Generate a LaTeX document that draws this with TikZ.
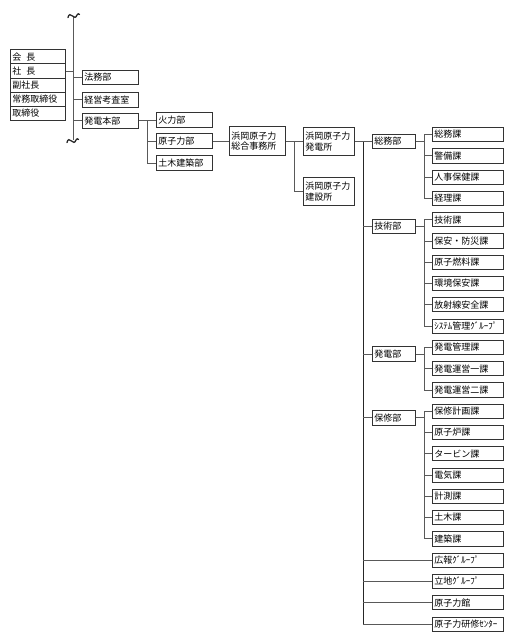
\documentclass[tikz,border=0pt]{standalone}
\usepackage{fontspec}
\newfontfamily\jpfont{Noto Sans CJK JP}
\usetikzlibrary{positioning}

\begin{document}
\begin{tikzpicture}[
    x=1pt, y=-1pt,
    box/.style   ={rectangle, draw=black!80, line width=0.7pt, fill=white,
                   inner xsep=2pt, inner ysep=0pt, anchor=west, align=left,
                   font=\jpfont\fontsize{9}{10.5}\selectfont},
    exec/.style  ={box, text width=51pt, minimum height=14.2pt},
    staff/.style ={box, text width=52pt, minimum height=14.5pt},
    office/.style={box, minimum height=28.5pt},
    dept/.style  ={box, text width=39pt, minimum height=14.5pt},
    sect/.style  ={box, text width=67pt, minimum height=14.2pt},
    link/.style  ={draw=black!65, line width=0.7pt},
    bus/.style   ={draw=black!85, line width=1pt},
    brk/.style   ={draw=black!85, line width=1.3pt, line cap=round}
]
\useasboundingbox (0,0) rectangle (512,640);

%% --- 役員 ---
\node[exec] (kai)  at (10,56.7)  {会\hspace{5pt}長};
\node[exec] (sha)  at (10,70.9)  {社\hspace{5pt}長};
\node[exec] (fuku) at (10,85.1)  {副社長};
\node[exec] (jomu) at (10,99.3)  {常務取締役};
\node[exec] (tori) at (10,113.5) {取締役};

%% --- 幕僚・本部 ---
\coordinate (top) at (73,16);
\coordinate (bot) at (73,140);
\node[staff] (homu)  at (82,77.5)  {法務部};
\node[staff] (keiei) at (82,99.7)  {経営考査室};
\node[staff] (hq)    at (82,120.8) {発電本部};

\node[staff] (karyoku) at (156,120) {火力部};
\node[staff] (genshi)  at (156,141) {原子力部};
\node[staff] (doboku)  at (156,163) {土木建築部};
\coordinate (b0) at (147,0);

%% --- 浜岡 ---
\node[office, text width=52pt] (sogo)   at (229,141)   {浜岡原子力\\総合事務所};
\node[office, text width=47pt] (hatsu)  at (303,141.5) {浜岡原子力\\発電所};
\node[office, text width=47pt] (kensetsu) at (303,191.5) {浜岡原子力\\建設所};
\coordinate (b1) at (294,0);
\coordinate (main) at (363,0);
\coordinate (b2) at (424,0);

%% --- 部 ---
\node[dept] (d1) at (372,141.2) {総務部};
\node[dept] (d2) at (372,226.3) {技術部};
\node[dept] (d3) at (372,354.0) {発電部};
\node[dept] (d4) at (372,417.8) {保修部};

%% --- 課 ---
\node[sect] (s1)  at (432,134.5) {総務課};
\node[sect] (s2)  at (432,155.8) {警備課};
\node[sect] (s3)  at (432,177.1) {人事保健課};
\node[sect] (s4)  at (432,198.3) {経理課};
\node[sect] (s5)  at (432,219.6) {技術課};
\node[sect] (s6)  at (432,240.9) {保安・防災課};
\node[sect] (s7)  at (432,262.2) {原子燃料課};
\node[sect] (s8)  at (432,283.5) {環境保安課};
\node[sect] (s9)  at (432,304.7) {放射線安全課};
\node[sect] (s10) at (432,326.0) {ｼｽﾃﾑ管理ｸﾞﾙｰﾌﾟ};
\node[sect] (s11) at (432,347.3) {発電管理課};
\node[sect] (s12) at (432,368.6) {発電運営一課};
\node[sect] (s13) at (432,389.9) {発電運営二課};
\node[sect] (s14) at (432,411.1) {保修計画課};
\node[sect] (s15) at (432,432.4) {原子炉課};
\node[sect] (s16) at (432,453.7) {タービン課};
\node[sect] (s17) at (432,475.0) {電気課};
\node[sect] (s18) at (432,496.3) {計測課};
\node[sect] (s19) at (432,517.5) {土木課};
\node[sect] (s20) at (432,538.8) {建築課};
\node[sect] (s21) at (432,560.1) {広報ｸﾞﾙｰﾌﾟ};
\node[sect] (s22) at (432,581.4) {立地ｸﾞﾙｰﾌﾟ};
\node[sect] (s23) at (432,602.7) {原子力館};
\node[sect] (s24) at (432,624.0) {原子力研修ｾﾝﾀｰ};

%% --- 役員から本部へ ---
\draw[link] (sha.east) -- (sha.east -| top);
\draw[link] (top) -- (bot);
\draw[link] (top |- homu.west) -- (homu.west)
            (top |- keiei.west) -- (keiei.west)
            (top |- hq.west) -- (hq.west);
%% --- 省略記号 ---
\draw[brk] (68,17.5) .. controls (68.5,14) and (71,14) .. (72.5,16)
      .. controls (74,18) and (76,18) .. (77,15)
      .. controls (77.5,13.5) and (79,13.5) .. (79.5,14.5);
\draw[brk] (67,142.5) .. controls (67.5,139) and (70,139) .. (71.5,141)
      .. controls (73,143) and (75,143) .. (76,140)
      .. controls (76.5,138.5) and (78,138.5) .. (78.5,139.5);

%% --- 発電本部 ---
\draw[link] (hq.east) -- (hq.east -| b0);
\draw[link] (b0 |- karyoku.west) -- (b0 |- doboku.west);
\draw[link] (b0 |- karyoku.west) -- (karyoku.west)
            (b0 |- genshi.west) -- (genshi.west)
            (b0 |- doboku.west) -- (doboku.west);
\draw[link] (genshi.east) -- (sogo.west);

%% --- 総合事務所 ---
\draw[link] (sogo.east) -- (sogo.east -| b1);
\draw[link] (b1 |- hatsu.west) -- (b1 |- kensetsu.west);
\draw[link] (b1 |- hatsu.west) -- (hatsu.west)
            (b1 |- kensetsu.west) -- (kensetsu.west);

%% --- 発電所の幹線 ---
\draw[link] (hatsu.east) -- (hatsu.east -| main);
\draw[bus] (main |- hatsu.east) -- (main |- s24.west);
\draw[link] (main |- d1.west) -- (d1.west)
            (main |- d2.west) -- (d2.west)
            (main |- d3.west) -- (d3.west)
            (main |- d4.west) -- (d4.west);
\draw[link] (main |- s21.west) -- (s21.west)
            (main |- s22.west) -- (s22.west)
            (main |- s23.west) -- (s23.west)
            (main |- s24.west) -- (s24.west);

%% --- 部から課へ ---
\draw[link] (d1.east) -- (d1.east -| b2)
            (d2.east) -- (d2.east -| b2)
            (d3.east) -- (d3.east -| b2)
            (d4.east) -- (d4.east -| b2);
\draw[link] (b2 |- s1.west) -- (b2 |- s4.west)
            (b2 |- s5.west) -- (b2 |- s10.west)
            (b2 |- s11.west) -- (b2 |- s13.west)
            (b2 |- s14.west) -- (b2 |- s20.west);
\draw[link] (b2 |- s1.west) -- (s1.west)   (b2 |- s2.west) -- (s2.west)
            (b2 |- s3.west) -- (s3.west)   (b2 |- s4.west) -- (s4.west)
            (b2 |- s5.west) -- (s5.west)   (b2 |- s6.west) -- (s6.west)
            (b2 |- s7.west) -- (s7.west)   (b2 |- s8.west) -- (s8.west)
            (b2 |- s9.west) -- (s9.west)   (b2 |- s10.west) -- (s10.west)
            (b2 |- s11.west) -- (s11.west) (b2 |- s12.west) -- (s12.west)
            (b2 |- s13.west) -- (s13.west) (b2 |- s14.west) -- (s14.west)
            (b2 |- s15.west) -- (s15.west) (b2 |- s16.west) -- (s16.west)
            (b2 |- s17.west) -- (s17.west) (b2 |- s18.west) -- (s18.west)
            (b2 |- s19.west) -- (s19.west) (b2 |- s20.west) -- (s20.west);
\end{tikzpicture}
\end{document}
